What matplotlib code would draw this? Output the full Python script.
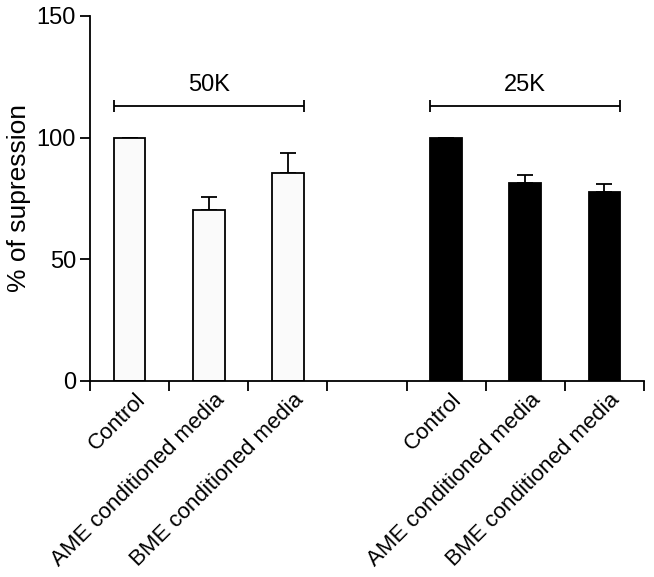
import matplotlib
matplotlib.use('Agg')
import matplotlib.pyplot as plt
import matplotlib.transforms as mtransforms

# data
labels = ['Control', 'AME conditioned media', 'BME conditioned media',
          'Control', 'AME conditioned media', 'BME conditioned media']
positions = [0, 1, 2, 4, 5, 6]
values_50k = [100, 70.2, 85.6]
errors_50k = [0, 5.6, 8.2]
values_25k = [100, 81.5, 77.7]
errors_25k = [0, 3.2, 3.1]
groups = ['50K', '25K']
group_y = 113


def main():
    plt.rcParams['font.family'] = ['Liberation Sans', 'DejaVu Sans']
    fig = plt.figure(figsize=(6.54, 5.77), dpi=100)
    ax = fig.add_axes([0.1376, 0.3397, 0.847, 0.6326])

    pos50 = positions[:3]
    pos25 = positions[3:]
    ax.bar(pos50, values_50k, width=0.4, color='#fafafa', edgecolor='black',
           linewidth=1.3, zorder=2)
    ax.bar(pos25, values_25k, width=0.4, color='black', edgecolor='black',
           linewidth=1.3, zorder=2)
    ax.errorbar(pos50, values_50k, yerr=[[0] * 3, errors_50k], fmt='none',
                ecolor='black', elinewidth=1.3, capsize=6, capthick=1.3, zorder=1)
    ax.errorbar(pos25, values_25k, yerr=[[0] * 3, errors_25k], fmt='none',
                ecolor='black', elinewidth=1.3, capsize=6, capthick=1.3, zorder=1)

    # group brackets
    for name, pos in zip(groups, [pos50, pos25]):
        mid = (pos[0] + pos[-1]) / 2
        half = (pos[-1] - pos[0]) / 2 + 0.2
        ax.errorbar([mid], [group_y], xerr=[half], fmt='none', ecolor='black',
                    elinewidth=1.3, capsize=4, capthick=1.3)
        ax.text(mid, group_y + 4, name, ha='center', va='bottom', fontsize=17)

    ax.set_xlim(-0.5, 6.5)
    ax.set_ylim(0, 150)
    ax.set_yticks([0, 50, 100, 150])
    ax.tick_params(axis='y', labelsize=17, length=7, width=1.3, pad=3)
    ax.set_xticks([x - 0.5 for x in range(8)])
    ax.set_xticklabels([])
    ax.tick_params(axis='x', which='major', length=7, width=1.3)
    ax.set_xticks(positions, minor=True)
    ax.set_xticklabels(labels, minor=True, rotation=45, ha='right', va='center',
                       rotation_mode='anchor', fontsize=16)
    ax.tick_params(axis='x', which='minor', length=0, pad=11)
    shift = mtransforms.ScaledTranslation(9 / 72, 0, fig.dpi_scale_trans)
    for lbl in ax.get_xticklabels(minor=True):
        lbl.set_transform(lbl.get_transform() + shift)
    ax.set_ylabel('% of supression', fontsize=19, labelpad=4)

    for side in ['top', 'right']:
        ax.spines[side].set_visible(False)
    for side in ['left', 'bottom']:
        ax.spines[side].set_linewidth(1.3)

    fig.savefig('out.png', dpi=100)


if __name__ == '__main__':
    main()
